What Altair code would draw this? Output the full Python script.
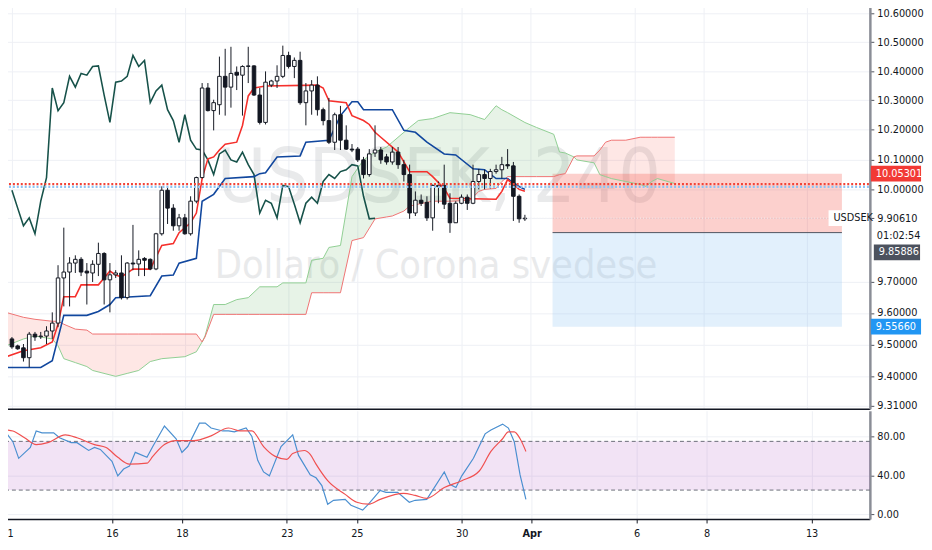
import altair as alt
import pandas as pd

W, H1, H2 = 879, 411, 110
FONT = "DejaVu Sans Condensed, Liberation Sans Narrow, Liberation Sans, sans-serif"
TXT = "#131722"
GRID = "#eef0f5"

# ---------------- candles (4h bars, index 0 = 11 Mar 00:00) ----------------
opens = [9.518, 9.496, 9.490, 9.459, 9.533, 9.525, 9.527, 9.543, 9.568, 9.712,
         9.731, 9.760, 9.772, 9.734, 9.728, 9.756, 9.791, 9.706, 9.722, 9.728,
         9.649, 9.760, 9.757, 9.775, 9.772, 9.741, 9.855, 9.998, 9.939, 9.881,
         9.907, 9.855, 9.962, 10.040, 10.342, 10.265, 10.285, 10.382, 10.345, 10.396,
         10.386, 10.416, 10.418, 10.318, 10.225, 10.352, 10.366, 10.382, 10.454, 10.416,
         10.437, 10.292, 10.332, 10.352, 10.268, 10.231, 10.158, 10.251, 10.165, 10.135,
         10.135, 10.099, 10.050, 10.122, 10.132, 10.109, 10.092, 10.125, 10.083, 10.050,
         9.923, 9.965, 9.958, 9.907, 10.014, 10.014, 9.955, 9.891, 9.955, 9.975,
         9.955, 10.027, 10.050, 10.037, 10.060, 10.066, 10.083, 10.079, 9.978, 9.904]
highs = [9.524, 9.500, 9.502, 9.540, 9.540, 9.540, 9.558, 9.602, 9.753, 9.875,
         9.779, 9.785, 9.779, 9.760, 9.769, 9.826, 9.795, 9.760, 9.737, 9.785,
         9.763, 9.884, 9.801, 9.779, 9.775, 9.858, 10.011, 10.011, 9.952, 9.920,
         9.920, 9.978, 10.043, 10.359, 10.359, 10.302, 10.450, 10.477, 10.484, 10.416,
         10.420, 10.484, 10.420, 10.342, 10.399, 10.370, 10.420, 10.488, 10.467, 10.447,
         10.467, 10.359, 10.369, 10.382, 10.275, 10.308, 10.258, 10.281, 10.215, 10.152,
         10.142, 10.109, 10.135, 10.215, 10.142, 10.119, 10.142, 10.142, 10.099, 10.083,
         9.994, 9.984, 9.978, 10.017, 10.027, 10.083, 9.988, 9.962, 9.984, 9.984,
         10.083, 10.069, 10.066, 10.069, 10.083, 10.109, 10.135, 10.092, 9.984, 9.917]
lows = [9.487, 9.484, 9.447, 9.429, 9.512, 9.518, 9.502, 9.518, 9.555, 9.621,
        9.621, 9.728, 9.718, 9.627, 9.699, 9.718, 9.627, 9.602, 9.712, 9.643,
        9.643, 9.737, 9.718, 9.718, 9.737, 9.737, 9.849, 9.887, 9.865, 9.865,
        9.852, 9.849, 9.955, 10.037, 10.262, 10.198, 10.251, 10.248, 10.275, 10.335,
        10.248, 10.359, 10.315, 10.218, 10.218, 10.345, 10.342, 10.376, 10.409, 10.376,
        10.285, 10.215, 10.251, 10.248, 10.215, 10.152, 10.132, 10.132, 10.132, 10.125,
        10.092, 10.037, 10.043, 10.109, 10.086, 10.083, 10.083, 10.069, 10.027, 9.904,
        9.913, 9.946, 9.897, 9.865, 9.955, 9.936, 9.858, 9.891, 9.952, 9.933,
        9.952, 10.001, 10.001, 10.004, 10.053, 10.037, 10.069, 9.897, 9.891, 9.897]
closes = [9.493, 9.487, 9.459, 9.533, 9.524, 9.527, 9.543, 9.568, 9.712, 9.731,
          9.760, 9.772, 9.731, 9.728, 9.756, 9.791, 9.706, 9.722, 9.728, 9.649,
          9.760, 9.757, 9.772, 9.769, 9.741, 9.855, 9.998, 9.939, 9.881, 9.907,
          9.855, 9.962, 10.040, 10.342, 10.265, 10.292, 10.382, 10.345, 10.392, 10.386,
          10.416, 10.418, 10.318, 10.225, 10.362, 10.366, 10.382, 10.454, 10.416, 10.437,
          10.292, 10.332, 10.352, 10.268, 10.231, 10.158, 10.251, 10.165, 10.135, 10.132,
          10.099, 10.050, 10.119, 10.132, 10.099, 10.092, 10.125, 10.083, 10.050, 9.923,
          9.965, 9.955, 9.907, 10.014, 10.010, 9.952, 9.891, 9.955, 9.975, 9.955,
          10.027, 10.050, 10.037, 10.060, 10.066, 10.083, 10.079, 9.978, 9.904, 9.906]
bars = list(range(len(opens)))

# ---------------- Ichimoku lines ----------------
tenkan_bar = [-1, 2, 5, 7, 8, 9, 11, 12, 15, 17, 18, 19, 21, 24, 26, 28, 29, 30, 31, 32,
              33, 34, 35, 36, 37, 39, 40, 41, 42, 44, 53, 54, 55, 58, 59, 61, 62, 63, 64, 66,
              67, 68, 69, 72, 73, 75, 76, 84, 85, 86, 87, 88, 89]
tenkan_val = [9.4622, 9.4807, 9.4901, 9.5085, 9.5644, 9.6520, 9.6520, 9.6898, 9.6898, 9.7341,
              9.7215, 9.7152, 9.7405, 9.7405, 9.8169, 9.8233, 9.8585, 9.8746, 9.8907, 9.9229,
              10.0367, 10.1023, 10.1088, 10.1319, 10.1517, 10.1583, 10.2147, 10.3150, 10.3419, 10.3486,
              10.3520, 10.3419, 10.2982, 10.2915, 10.2480, 10.2313, 10.2180, 10.1915, 10.1749, 10.1418,
              10.1253, 10.0924, 10.0596, 10.0596, 10.0432, 10.0040, 9.9715, 9.9682, 9.9943, 10.0334,
              10.0171, 10.0008, 9.9943]
kijun_bar = [-1, 5, 7, 9, 13, 15, 17, 18, 24, 26, 28, 29, 32, 33, 35, 37, 42, 43, 44, 46,
             50, 51, 55, 57, 59, 60, 61, 66, 68, 70, 72, 75, 77, 80, 82, 84, 86, 88, 89]
kijun_val = [9.4286, 9.4286, 9.4499, 9.5925, 9.5925, 9.6050, 9.6269, 9.6489, 9.6552, 9.7183,
             9.7215, 9.7595, 9.7754, 9.9618, 9.9845, 10.0367, 10.0432, 10.0530, 10.0563, 10.1088,
             10.1122, 10.1583, 10.1649, 10.2480, 10.2948, 10.2948, 10.2680, 10.2680, 10.1981, 10.1915,
             10.1583, 10.1187, 10.1154, 10.0693, 10.0661, 10.0367, 10.0367, 10.0105, 10.0008]
cloud_bar = [-1, 2, 4, 7, 8, 9, 11, 13, 14, 18, 20, 22, 24, 26, 30, 32, 33, 33.5, 35, 37,
             39, 41, 43, 46, 47, 51, 52, 54, 55, 57, 59, 61, 63, 65, 66, 68, 69, 70.5, 73, 76,
             79.5, 81, 82, 84, 85, 86, 89, 91, 94, 95, 96, 97.5, 98, 101, 102, 103, 104, 106.5, 109, 110,
             111, 112, 115]
span_a = [9.4963, 9.5179, 9.5272, 9.5179, 9.4963, 9.4560, 9.4437, 9.4314, 9.4192, 9.4008,
          9.4100, 9.4192, 9.4470, 9.4560, 9.4622, 9.4776, 9.5085, 9.5272, 9.6269, 9.6269,
          9.6426, 9.6489, 9.6836, 9.6836, 9.6961, 9.6961, 9.7690, 9.7754, 9.8105, 9.8169,
          10.0432, 10.0989, 10.1253, 10.1418, 10.1583, 10.1915, 10.2080, 10.2313, 10.2380, 10.2580,
          10.2513, 10.2413, 10.2347, 10.2814, 10.2680, 10.2580, 10.2247, 10.2080, 10.1849, 10.1253,
          10.1220, 10.1088, 10.0989, 10.0891, 10.0497, 10.0432, 10.0367, 10.0269, 10.0171, 10.0105,
          10.0269, 10.0367, 10.0203]
span_b = [9.6019, 9.5863, 9.5800, 9.5738, 9.5738, 9.5644, 9.5489, 9.5458, 9.5334, 9.5334,
          9.5334, 9.5334, 9.5334, 9.5334, 9.5334, 9.5334, 9.5085, 9.5241, 9.5956, 9.5956,
          9.5956, 9.5956, 9.5956, 9.5956, 9.5956, 9.5956, 9.6646, 9.6646, 9.6646, 9.6646,
          9.8329, 9.8425, 9.9036, 9.9100, 9.9132, 9.9294, 9.9456, 9.9521, 9.9618, 9.9618,
          9.9650, 9.9943, 10.0008, 10.0040, 10.0269, 10.0432, 10.0432, 10.0432, 10.0432, 10.0497,
          10.0530, 10.1088, 10.1122, 10.1122, 10.1319, 10.1583, 10.1649, 10.1649, 10.1749, 10.1749,
          10.1749, 10.1749, 10.1749]

# ---------------- stochastic ----------------
k_bar = [0, 1, 2, 4, 5, 6, 8, 9, 11, 12, 14, 15, 16, 18, 19, 20, 21, 22, 24, 25,
         27, 29, 30, 31, 33, 34, 35, 37, 38, 39, 41, 42, 43, 44, 45, 47, 49, 50, 52, 53,
         54, 55, 56, 58, 59, 61, 62, 64, 65, 67, 69, 70, 72, 75, 76, 77, 78, 80, 82, 83,
         85, 86, 87, 88, 89]
k_val = [82.7, 74.7, 57.6, 68.7, 85.7, 83.7, 83.7, 78.7, 73.7, 73.7, 65.7, 68.7, 66.7, 54.6, 39.6, 46.6, 49.6, 63.7, 58.6, 69.7,
         90.7, 77.7, 63.7, 69.7, 93.7, 93.7, 88.7, 85.7, 85.7, 84.7, 88.7, 80.0, 55.6, 43.6, 39.6, 69.7, 81.7, 60.6, 40.6, 37.6,
         29.6, 10.5, 14.5, 15.5, 9.5, 4.5, 10.5, 24.6, 22.6, 22.6, 12.5, 14.5, 15.5, 43.6, 30.6, 27.6, 39.6, 57.6, 82.7, 86.7,
         92.7, 88.7, 74.7, 40.6, 15.5]
d_bar = [0, 1, 3, 5, 7, 10, 12, 15, 17, 19, 21, 24, 25, 27, 29, 32, 35, 38, 40, 42,
         44, 46, 48, 49, 51, 52, 53, 55, 58, 60, 62, 64, 68, 70, 72, 75, 78, 81, 83, 85,
         86, 87, 88, 89]
d_val = [86.7, 85.7, 78.7, 71.7, 73.7, 81.7, 78.7, 71.7, 68.7, 58.6, 51.6, 52.6, 59.6, 71.7, 75.7, 75.7, 80.7, 88.7, 85.7, 85.7,
         69.7, 59.6, 56.6, 62.6, 65.6, 61.6, 51.6, 34.6, 20.6, 12.5, 10.5, 15.5, 21.6, 19.5, 16.5, 27.6, 34.6, 44.6, 64.7, 77.7,
         84.7, 84.7, 77.7, 64.7]

# ---------------- axes / levels ----------------
x_ticks = [0, 18, 30, 48, 60, 78, 90, 108, 120, 138]
x_labels = ["11", "16", "18", "23", "25", "30", "Apr", "6", "8", "13"]
price_ticks = [9.31, 9.4, 9.5, 9.6, 9.7, 9.9061, 10.0, 10.1, 10.2, 10.3, 10.4, 10.5, 10.6]
stoch_ticks = [0, 40, 80]
last_price = 9.9061
entry_price = 9.85886
stop_price = 10.05301
target_price = 9.5566
tool_start, tool_end = 93.8, 144.0
red_level, blue_level = 10.018, 10.009

xs = alt.Scale(domain=[-0.34, 148.0], nice=False, zero=False)
ys = alt.Scale(type="log", domain=[9.3004, 10.632], nice=False, zero=False)
ss = alt.Scale(domain=[-4.7, 106.4], nice=False, zero=False)

xax_main = alt.Axis(title=None, values=x_ticks, labels=False, ticks=False, domain=True,
                    domainColor=TXT, domainWidth=1.5, grid=True, gridColor=GRID)
yax_main = alt.Axis(title=None, orient="right", values=price_ticks, format=".5f", labelFont=FONT,
                    labelFontSize=11, labelColor=TXT, labelOverlap=False, labelPadding=3, tickSize=4,
                    tickColor="#50535e", domainColor="#8a8d96", domainWidth=2.5, grid=True, gridColor=GRID)
label_expr = "[" + ",".join("'%s'" % s for s in x_labels) + "][indexof([" + ",".join(str(v) for v in x_ticks) + "], datum.value)]"
xax_stoch = alt.Axis(title=None, values=x_ticks, labelExpr=label_expr, labelFont=FONT, labelFontSize=11,
                     labelColor=TXT,
                     labelFontWeight={"condition": {"test": "datum.value == 90", "value": "bold"}, "value": "normal"},
                     ticks=True, tickSize=4, tickColor=TXT, domainColor=TXT, domainWidth=1.5,
                     grid=True, gridColor=GRID, labelPadding=5)
yax_stoch = alt.Axis(title=None, orient="right", values=stoch_ticks, format=".2f", labelFont=FONT,
                     labelFontSize=11, labelColor=TXT, labelPadding=3, tickSize=4, tickColor="#50535e",
                     domainColor="#8a8d96", domainWidth=2.5, grid=True, gridColor=GRID)

X = lambda f: alt.X(f, type="quantitative", scale=xs, axis=xax_main)
Y = lambda f: alt.Y(f, type="quantitative", scale=ys, axis=yax_main)

candles = pd.DataFrame({"bar": bars, "open": opens, "high": highs, "low": lows, "close": closes})
chikou = pd.DataFrame({"bar": [b - 26 for b in bars[26:]], "v": closes[26:]})
tenkan = pd.DataFrame({"bar": tenkan_bar, "v": tenkan_val})
kijun = pd.DataFrame({"bar": kijun_bar, "v": kijun_val})
cloud = pd.DataFrame({"bar": cloud_bar, "a": span_a, "b": span_b})
one = pd.DataFrame({"z": [0]})

layers = []
# watermark
layers.append(alt.Chart(one).mark_text(text="USDSEK, 240", font=FONT, fontSize=76, color="#9598a1",
                                       opacity=0.2, align="center", baseline="middle")
              .encode(x=alt.value(441), y=alt.value(178)))
layers.append(alt.Chart(one).mark_text(text="Dollaro / Corona svedese", font=FONT, fontSize=40, color="#9598a1",
                                       opacity=0.2, align="center", baseline="middle")
              .encode(x=alt.value(438), y=alt.value(266)))
# position tool
tool = pd.DataFrame({"x1": [tool_start, tool_start], "x2": [tool_end, tool_end],
                     "p1": [stop_price, entry_price], "p2": [entry_price, target_price],
                     "kind": ["stop", "target"]})
layers.append(alt.Chart(tool).mark_rect(opacity=0.25).encode(
    x=X("x1"), x2="x2", y=Y("p1"), y2="p2",
    color=alt.Color("kind:N", scale=alt.Scale(domain=["stop", "target"], range=["#f44336", "#8cc4f5"]), legend=None)))
layers.append(alt.Chart(pd.DataFrame({"x1": [tool_start], "x2": [tool_end], "p": [entry_price]}))
              .mark_rule(color="#50535e", strokeWidth=1).encode(x=X("x1"), x2="x2", y=Y("p")))
# cloud
cl = alt.Chart(cloud).transform_calculate(lo="min(datum.a, datum.b)")
layers.append(cl.mark_area(color="#43a047", opacity=0.13, clip=True).encode(x=X("bar"), y=Y("a"), y2="lo:Q"))
layers.append(cl.mark_area(color="#f44336", opacity=0.13, clip=True).encode(x=X("bar"), y=Y("b"), y2="lo:Q"))
layers.append(alt.Chart(cloud).mark_line(color="#8fce92", strokeWidth=1, clip=True).encode(x=X("bar"), y=Y("a")))
layers.append(alt.Chart(cloud).mark_line(color="#ef7272", strokeWidth=1, clip=True).encode(x=X("bar"), y=Y("b")))
# lagging, base, conversion
layers.append(alt.Chart(chikou).mark_line(color="#17524a", strokeWidth=1.6, clip=True).encode(x=X("bar"), y=Y("v")))
layers.append(alt.Chart(kijun).mark_line(color="#11479e", strokeWidth=1.6, clip=True).encode(x=X("bar"), y=Y("v")))
layers.append(alt.Chart(tenkan).mark_line(color="#f5302c", strokeWidth=1.6, clip=True).encode(x=X("bar"), y=Y("v")))
# candles
layers.append(alt.Chart(candles).mark_rule(color=TXT, strokeWidth=1).encode(x=X("bar"), y=Y("low"), y2="high:Q"))
layers.append(alt.Chart(candles).mark_bar(size=3.6, stroke=TXT, strokeWidth=1).encode(
    x=X("bar"), y=Y("open"), y2="close:Q",
    fill=alt.condition("datum.close >= datum.open", alt.value("#ffffff"), alt.value(TXT))))
# horizontal dotted levels
lv = pd.DataFrame({"p": [red_level, blue_level], "c": ["red", "blue"]})
layers.append(alt.Chart(lv).mark_rule(strokeWidth=2.2, strokeDash=[2, 2]).encode(
    x=alt.value(0), x2=alt.value(W), y=Y("p"),
    color=alt.Color("c:N", scale=alt.Scale(domain=["red", "blue"], range=["#f23a35", "#1d4f9e"]), legend=None)))
# current price line
layers.append(alt.Chart(pd.DataFrame({"x1": [bars[-1]], "x2": [148.0], "p": [last_price]}))
              .mark_rule(color="#f4f4f6", strokeWidth=1, strokeDash=[1, 2]).encode(x=X("x1"), x2="x2", y=Y("p")))


def tag(price, text, bg, fg, shift=0, x0=W + 1, x1=W + 52):
    df = pd.DataFrame({"p": [price], "t": [text]})
    r = alt.Chart(df).mark_rect(color=bg, yOffset=shift - 8, y2Offset=shift + 8).encode(
        x=alt.value(x0), x2=alt.value(x1), y=Y("p"), y2="p:Q")
    t = alt.Chart(df).mark_text(color=fg, align="left", baseline="middle", dy=shift, font=FONT,
                                fontSize=11).encode(x=alt.value(x0 + 5), y=Y("p"), text="t:N")
    return [r, t]


layers += tag(last_price, "USDSEK", "#ffffff", TXT, 0, W - 42, W - 1)
layers += tag(stop_price, "10.05301", "#f23a35", "#ffffff")
layers += tag(entry_price, "9.85886", "#4c525e", "#ffffff", 20, W + 4, W + 51)
layers += tag(target_price, "9.55660", "#2196f3", "#ffffff")
layers.append(alt.Chart(pd.DataFrame({"p": [last_price], "t": ["01:02:54"]})).mark_text(
    color=TXT, align="left", baseline="middle", dy=18, font=FONT, fontSize=11).encode(
    x=alt.value(W + 7), y=Y("p"), text="t:N"))

main = alt.layer(*layers).properties(width=W, height=H1)

# ---------------- stochastic panel ----------------
SX = lambda f: alt.X(f, type="quantitative", scale=xs, axis=xax_stoch)
SY = lambda f: alt.Y(f, type="quantitative", scale=ss, axis=yax_stoch)
band = alt.Chart(pd.DataFrame({"lo": [25], "hi": [75]})).mark_rect(color="#9c27b0", opacity=0.13).encode(
    x=alt.value(0), x2=alt.value(W), y=SY("lo"), y2="hi:Q")
dashes = alt.Chart(pd.DataFrame({"v": [25, 75]})).mark_rule(color="#6a6d78", strokeDash=[4, 3], strokeWidth=1).encode(
    x=alt.value(0), x2=alt.value(W), y=SY("v"))
kline = alt.Chart(pd.DataFrame({"bar": k_bar, "v": k_val})).mark_line(color="#4a8fd0", strokeWidth=1.2, clip=True).encode(
    x=SX("bar"), y=SY("v"))
dline = alt.Chart(pd.DataFrame({"bar": d_bar, "v": d_val})).mark_line(color="#f05050", strokeWidth=1.2, clip=True,
                                                                     interpolate="monotone").encode(
    x=SX("bar"), y=SY("v"))
stoch = alt.layer(band, dashes, kline, dline).properties(width=W, height=H2)

# page margin is 8px: shift the drawing so that its origin sits at the window corner
chart = alt.vconcat(main, stoch, spacing=0).properties(
    padding={"left": -8, "top": -8, "right": 0, "bottom": 0}, background="white").configure_view(stroke=None)
chart.save("out.html", embed_options={"renderer": "svg", "actions": False})
